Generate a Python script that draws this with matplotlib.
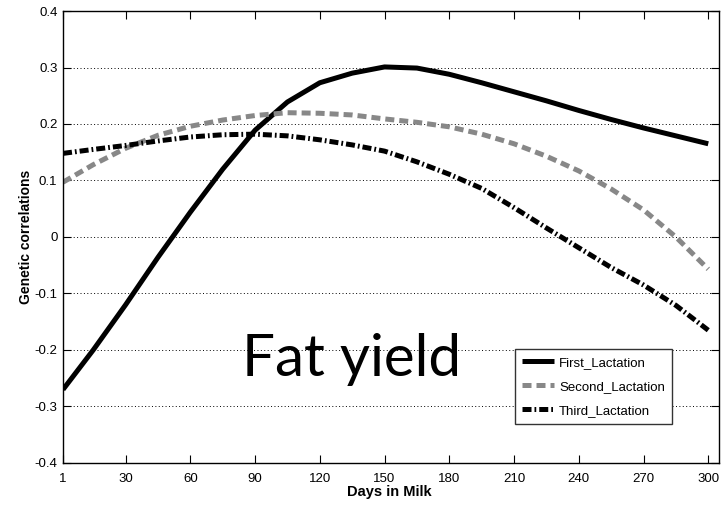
import matplotlib
matplotlib.use('Agg')
import matplotlib.pyplot as plt
import numpy as np

# Valeurs
days = [1, 15, 30, 45, 60, 75, 90, 105, 120, 135, 150, 165, 180, 195, 210, 225, 240, 255, 270, 285, 300]
first = [-0.27, -0.20, -0.12, -0.036, 0.044, 0.12, 0.189, 0.239, 0.273, 0.290, 0.301, 0.299, 0.288, 0.273, 0.257, 0.241, 0.224, 0.208, 0.193, 0.179, 0.165]
second = [0.097, 0.128, 0.157, 0.18, 0.196, 0.207, 0.215, 0.22, 0.219, 0.216, 0.209, 0.203, 0.195, 0.182, 0.165, 0.143, 0.117, 0.085, 0.048, 0.0, -0.057]
third = [0.148, 0.155, 0.162, 0.17, 0.177, 0.181, 0.182, 0.179, 0.172, 0.163, 0.152, 0.133, 0.111, 0.086, 0.052, 0.016, -0.019, -0.054, -0.085, -0.121, -0.165]

xticks = [1, 30, 60, 90, 120, 150, 180, 210, 240, 270, 300]
yticks = [-0.4, -0.3, -0.2, -0.1, 0, 0.1, 0.2, 0.3, 0.4]
ytick_labels = ['-0.4', '-0.3', '-0.2', '-0.1', '0', '0.1', '0.2', '0.3', '0.4']

sans = ['Liberation Sans', 'DejaVu Sans']

fig = plt.figure(figsize=(7.26, 5.07), dpi=100)
ax = fig.add_axes([0.0868, 0.0868, 0.9036, 0.8915])

lw = 3.6
ax.plot(days, first, color='black', linewidth=lw, solid_capstyle='butt', solid_joinstyle='round',
        label='First_Lactation')
ax.plot(days, second, color='#888888', linewidth=lw, linestyle=(0, (1.8, 1.0)), dash_joinstyle='round',
        label='Second_Lactation')
ax.plot(days, third, color='black', linewidth=lw, linestyle=(0, (1.8, 0.6, 0.35, 0.6)), dash_joinstyle='round',
        label='Third_Lactation')

ax.set_xlim(1, 305)
ax.set_ylim(-0.4, 0.4)
ax.set_xticks(xticks)
ax.set_yticks(yticks)
ax.set_yticklabels(ytick_labels)

# grille horizontale pointillée seulement
ax.yaxis.grid(True, linestyle=(0, (1, 2.5)), color='black', linewidth=0.7)
ax.xaxis.grid(False)
ax.set_axisbelow(True)

ax.tick_params(direction='in', length=6, width=0.8, top=True, right=True, labelsize=9.5)
ax.tick_params(axis='x', pad=7)
ax.tick_params(axis='y', pad=4)
for lab in ax.get_xticklabels() + ax.get_yticklabels():
    lab.set_family(sans)
for sp in ax.spines.values():
    sp.set_linewidth(1.0)

ax.set_xlabel('Days in Milk', fontsize=10.5, fontweight='bold', family=sans)
ax.set_ylabel('Genetic correlations', fontsize=10, fontweight='bold', family=sans)
ax.xaxis.set_label_coords(0.498, -0.048)
ax.yaxis.set_label_coords(-0.045, 0.5)

ax.text(134.8, -0.246, 'Fat yield', fontsize=42, family=['Lato', 'DejaVu Sans'],
        ha='center', va='baseline', color='black')

leg = ax.legend(loc='lower left', bbox_to_anchor=(0.689, 0.086), fancybox=False, framealpha=1,
                edgecolor='#333333', prop={'family': sans, 'size': 9.5},
                handlelength=2.4, handletextpad=0.4, labelspacing=0.9, borderpad=0.55, borderaxespad=0)
leg.get_frame().set_linewidth(1.0)

fig.savefig('out.png', dpi=100)
plt.close()
